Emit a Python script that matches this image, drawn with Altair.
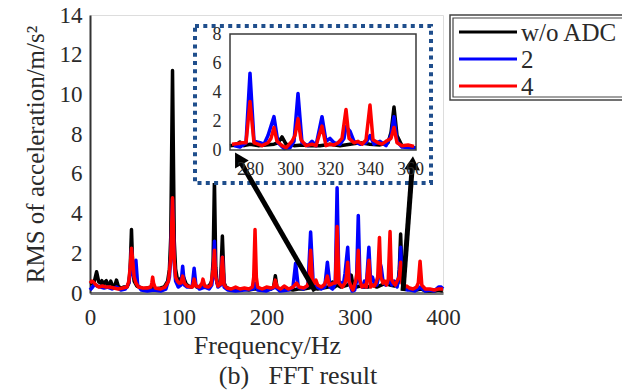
import altair as alt
import pandas as pd

# ---------------- data ----------------
series_names = ["w/o ADC", "2", "4"]
series_colors = ["#000000", "#0000FF", "#FF0000"]

black_f = [0, 3, 5, 7.5, 10, 12, 13.5, 15, 17, 18.5, 20, 22, 23.5, 26, 28, 30, 32, 35, 38, 42, 44, 45.5, 47, 48.5,
           50, 53, 56, 60, 65, 70, 75, 80, 84, 88, 90, 91.5, 93.5, 95.5, 97, 99, 101, 103, 106, 109, 112, 115, 118,
           121, 125, 130, 135, 138, 139.5, 141, 142.5, 144, 146, 148, 150, 152, 154, 158, 165, 172, 180, 186, 188,
           195, 200, 205, 208, 210, 212, 216, 222, 230, 236, 242, 248, 252, 258, 264, 270, 273, 275, 277, 280, 284,
           288, 292, 294, 296, 298, 302, 306, 310, 315, 320, 325, 330, 335, 340, 345, 349, 350.5, 352, 353.5, 356,
           360, 365, 370, 375, 380, 385, 390, 395, 400]
black_a = [0.45, 0.5, 0.6, 1.07, 0.55, 0.5, 0.62, 0.4, 0.55, 0.62, 0.4, 0.45, 0.6, 0.3, 0.35, 0.65, 0.35, 0.25, 0.3,
           0.3, 0.5, 1.2, 3.2, 1.2, 0.6, 0.35, 0.3, 0.2, 0.25, 0.3, 0.2, 0.25, 0.3, 0.6, 1.2, 2.8, 11.2, 2.6, 1.2,
           0.7, 0.6, 0.75, 0.8, 0.45, 0.35, 0.3, 0.45, 0.3, 0.3, 0.3, 0.35, 0.6, 1.6, 5.7, 1.3, 0.5, 0.4, 0.6, 2.87,
           0.5, 0.3, 0.2, 0.2, 0.2, 0.15, 0.2, 0.2, 0.15, 0.2, 0.2, 0.3, 0.87, 0.25, 0.15, 0.2, 0.15, 0.2, 0.2, 0.25,
           0.3, 0.2, 0.25, 0.3, 0.35, 0.55, 0.3, 0.4, 0.3, 0.35, 0.4, 0.5, 0.9, 0.4, 0.3, 0.35, 0.3, 0.3, 0.4, 0.3,
           0.4, 0.5, 0.4, 0.35, 0.5, 1.2, 2.97, 1.0, 0.3, 0.2, 0.15, 0.15, 0.2, 0.1, 0.1, 0.1, 0.15, 0.1]

blue_f = [0, 3, 5, 8, 12, 16, 20, 25, 30, 35, 40, 44, 45.5, 47, 48.5, 50, 52, 54, 58, 65, 72, 80, 86, 90, 91.5, 93.5,
          95.5, 97, 100, 103, 105, 107, 110, 114, 116, 118, 120, 124, 130, 135, 138, 139.5, 141, 142.5, 145, 148,
          150, 152, 156, 165, 175, 185, 187, 190, 200, 210, 215, 225, 230, 233, 236, 242, 247, 250, 253, 257, 262,
          266, 269, 272, 275, 278, 280, 282, 285, 287, 289, 292, 294, 297, 300, 302, 304, 306, 309, 311, 313, 316,
          318, 320, 322, 325, 327, 328, 330, 332, 335, 338, 340, 342, 345, 348, 350.5, 352, 353.5, 356, 360, 363,
          368, 374, 380, 385, 390, 395, 398, 400]
blue_a = [0.15, 0.3, 0.45, 0.35, 0.3, 0.25, 0.3, 0.2, 0.3, 0.15, 0.2, 0.5, 1.0, 2.2, 1.0, 0.8, 1.65, 0.4, 0.15, 0.1,
          0.15, 0.1, 0.2, 0.8, 1.8, 4.7, 1.5, 0.6, 0.3, 0.4, 1.35, 0.4, 0.3, 0.3, 0.4, 1.25, 0.4, 0.2, 0.3, 0.2, 0.4,
          1.0, 2.6, 0.8, 0.3, 0.4, 1.8, 0.3, 0.15, 0.1, 0.15, 0.2, 0.5, 0.15, 0.1, 0.3, 0.1, 0.15, 0.3, 1.5, 0.3,
          0.2, 0.4, 3.07, 0.4, 0.3, 0.2, 0.3, 1.55, 0.3, 0.2, 0.5, 5.3, 0.6, 0.5, 0.4, 1.0, 2.3, 0.5, 0.1, 0.15,
          0.6, 3.9, 0.5, 0.3, 0.6, 0.3, 2.3, 0.6, 0.8, 0.5, 0.4, 0.8, 1.6, 1.3, 0.6, 0.4, 0.5, 1.0, 0.4, 0.6, 0.3,
          1.0, 2.3, 0.6, 0.2, 0.15, 0.15, 0.1, 0.3, 0.1, 0.15, 0.1, 0.3, 0.3, 0.2]

red_f = [0, 2, 4, 7, 10, 14, 18, 22, 27, 32, 37, 42, 44, 45.5, 47, 48.5, 50, 52, 55, 60, 65, 69, 70, 71, 72, 74, 80,
         85, 89, 91.5, 93.5, 95.5, 97, 99, 101, 103, 105, 107, 110, 114, 116, 118, 120, 124, 127, 128, 130, 134,
         137, 139.5, 141, 142.5, 145, 148, 150, 152, 155, 160, 165, 170, 175, 180, 184, 185.5, 187, 188.5, 190,
         195, 200, 205, 208, 210, 212, 216, 220, 225, 230, 234, 237, 242, 246, 248, 250, 252, 254, 256, 258, 262,
         266, 269, 271, 274, 276, 278, 280, 282, 284, 286, 289, 290.5, 292, 293.5, 296, 298, 301, 302.5, 304,
         305.5, 308, 311, 313, 316, 318, 320, 322, 324, 326, 328, 329.5, 332, 334, 336, 338, 340, 341.5, 344, 346,
         348, 350.5, 352, 353.5, 356, 359, 362, 366, 370, 372, 374, 376, 380, 385, 390, 395, 400]
red_a = [0.5, 0.6, 0.55, 0.4, 0.3, 0.35, 0.3, 0.3, 0.25, 0.2, 0.25, 0.3, 0.6, 1.3, 2.25, 1.6, 0.8, 0.5, 0.3, 0.25,
         0.25, 0.3, 0.5, 0.8, 0.5, 0.25, 0.2, 0.3, 0.6, 1.8, 4.8, 1.6, 0.8, 0.6, 0.5, 0.5, 0.85, 0.5, 0.35, 0.3,
         0.3, 0.7, 0.35, 0.3, 0.5, 0.7, 0.35, 0.3, 0.4, 1.2, 2.15, 0.8, 0.35, 0.45, 1.8, 0.4, 0.25, 0.2, 0.3, 0.2,
         0.25, 0.2, 0.3, 0.8, 3.2, 0.8, 0.3, 0.2, 0.3, 0.25, 0.3, 0.65, 0.3, 0.2, 0.35, 0.2, 0.3, 0.5, 0.3, 0.25,
         0.35, 0.6, 2.15, 0.6, 0.5, 0.65, 0.4, 0.3, 0.45, 0.85, 0.4, 0.45, 0.5, 0.5, 3.35, 0.5, 0.4, 0.3, 0.5,
         0.8, 1.55, 0.6, 0.3, 0.15, 0.6, 1.0, 2.15, 0.7, 0.3, 0.4, 0.3, 1.65, 0.3, 0.4, 0.35, 0.5, 0.8, 2.8, 0.8,
         0.5, 0.6, 0.4, 0.7, 3.1, 0.7, 0.5, 0.4, 0.6, 0.8, 1.55, 0.5, 0.3, 0.35, 0.25, 0.2, 0.3, 0.5, 1.6, 0.4,
         0.2, 0.2, 0.15, 0.2, 0.2]

x_ticks = [0, 100, 200, 300, 400]
y_ticks = [0, 2, 4, 6, 8, 10, 12, 14]
inset_x_ticks = [280, 300, 320, 340, 360]
inset_y_ticks = [0, 2, 4, 6, 8]
inset_x_domain = [270, 363]
inset_y_domain = [0, 8]

x_title = "Frequency/Hz"
y_title = "RMS of acceleration/m/s\u00b2"
caption = "(b)\u00a0\u00a0\u00a0FFT result"

# ---------------- styling ----------------
FONT = "Liberation Serif"
TXT = "#2a2a2a"
W, H = 353, 278
LW = 3.5
dummy = pd.DataFrame({"k": [0]})

frames = [pd.DataFrame({"f": f, "a": a}) for f, a in
          [(black_f, black_a), (blue_f, blue_a), (red_f, red_a)]]

main_x = alt.X("f:Q",
               scale=alt.Scale(domain=[0, 400], nice=False, zero=False),
               axis=alt.Axis(values=x_ticks, title=x_title, grid=False, ticks=False,
                             labelFlush=False, labelOverlap=False,
                             labelFont=FONT, labelFontSize=23, labelColor=TXT, labelPadding=13,
                             domainColor="#777777", domainWidth=3,
                             titleFont=FONT, titleFontSize=26, titleFontWeight="normal",
                             titleColor=TXT, titleX=177, titleY=60, titleBaseline="alphabetic",
                             titleAlign="center"))
main_y = alt.Y("a:Q",
               scale=alt.Scale(domain=[0, 14], nice=False, zero=False),
               axis=alt.Axis(values=y_ticks, title=y_title, grid=False, ticks=False,
                             labelFlush=False, labelOverlap=False,
                             labelFont=FONT, labelFontSize=23, labelColor=TXT, labelPadding=8,
                             domainColor="#333333", domainWidth=2,
                             titleFont=FONT, titleFontSize=25, titleFontWeight="normal",
                             titleColor=TXT, titleAngle=270, titleX=-47, titleY=139,
                             titleBaseline="alphabetic", titleAlign="center"))

main = alt.layer(*[
    alt.Chart(df).mark_line(color=c, strokeWidth=LW, strokeJoin="round").encode(x=main_x, y=main_y)
    for df, c in zip(frames, series_colors)
])

in_x = alt.X("f:Q",
             scale=alt.Scale(domain=inset_x_domain, range=[140, 326], nice=False, zero=False),
             axis=alt.Axis(orient="bottom", offset=-143, values=inset_x_ticks, title=None,
                           grid=False, ticks=False, domain=False, labelFlush=False,
                           labelOverlap=False, labelFont=FONT, labelFontSize=18,
                           labelColor=TXT, labelPadding=10, zindex=1))
in_y = alt.Y("a:Q",
             scale=alt.Scale(domain=inset_y_domain, range=[135, 19], nice=False, zero=False),
             axis=alt.Axis(orient="left", offset=-140, values=inset_y_ticks, title=None,
                           grid=False, ticks=False, domain=False, labelFlush=False,
                           labelOverlap=False, labelFont=FONT, labelFontSize=18,
                           labelColor=TXT, labelPadding=9, zindex=1))

inset = alt.layer(*[
    alt.Chart(df).mark_line(color=c, strokeWidth=LW, strokeJoin="round")
    .encode(x=in_x, y=in_y)
    .transform_filter((alt.datum.f >= inset_x_domain[0]) & (alt.datum.f <= inset_x_domain[1]))
    for df, c in zip(frames, series_colors)
])


def box(x, x2, y, y2, **kw):
    return alt.Chart(dummy).mark_rect(**kw).encode(
        x=alt.value(x), x2=alt.value(x2), y=alt.value(y), y2=alt.value(y2))


white_box = box(105, 341, 11, 168, color="white")
inset_bg = box(140, 326, 19, 135, color="white")
inset_frame = box(140, 326, 19, 135, fillOpacity=0, stroke="#3a3a3a", strokeWidth=1.5)
dotted = box(105, 341, 11, 168, fillOpacity=0, stroke="#1F4E8C", strokeWidth=4,
             strokeDash=[4, 4.3])

arrow_layers = []
for (x1, y1, x2, y2, ang) in [(225, 276, 148.5, 143.5, 330), (313, 276, 322.5, 148, 4)]:
    arrow_layers.append(alt.Chart(dummy).mark_rule(color="black", strokeWidth=5).encode(
        x=alt.value(x1), y=alt.value(y1), x2=alt.value(x2), y2=alt.value(y2)))
    arrow_layers.append(alt.Chart(dummy).mark_point(
        shape="triangle-up", filled=True, color="black", opacity=1, size=250, angle=ang).encode(
        x=alt.value(x2), y=alt.value(y2)))

legend_layers = [
    box(360, 560, 0, 85, fill="white", stroke="#444444", strokeWidth=1.5),
    box(363, 560, 3, 82, fillOpacity=0, stroke="#444444", strokeWidth=1.2),
]
for i, (name, c) in enumerate(zip(series_names, series_colors)):
    yy = 17 + 27 * i
    legend_layers.append(alt.Chart(dummy).mark_rule(color=c, strokeWidth=3).encode(
        x=alt.value(369), x2=alt.value(427), y=alt.value(yy), y2=alt.value(yy)))
    legend_layers.append(alt.Chart(dummy).mark_text(
        text=name, font=FONT, fontSize=25, color=TXT, align="left", baseline="middle").encode(
        x=alt.value(431), y=alt.value(yy + 1)))

cap = alt.Chart(dummy).mark_text(text=caption, font=FONT, fontSize=26, color=TXT,
                                 align="center", baseline="alphabetic").encode(
    x=alt.value(208), y=alt.value(369))

chart = alt.layer(
    main, white_box, inset_bg, inset, inset_frame, dotted,
    *arrow_layers, *legend_layers, cap
).resolve_scale(x="independent", y="independent").properties(
    width=W, height=H,
    autosize=alt.AutoSizeParams(type="none"),
    padding={"left": 90, "top": 15, "right": 179, "bottom": 99},
).configure_view(stroke="#333333", strokeWidth=1.5).configure(background="white")

chart.save("out.html", embed_options={"renderer": "svg", "actions": False})
